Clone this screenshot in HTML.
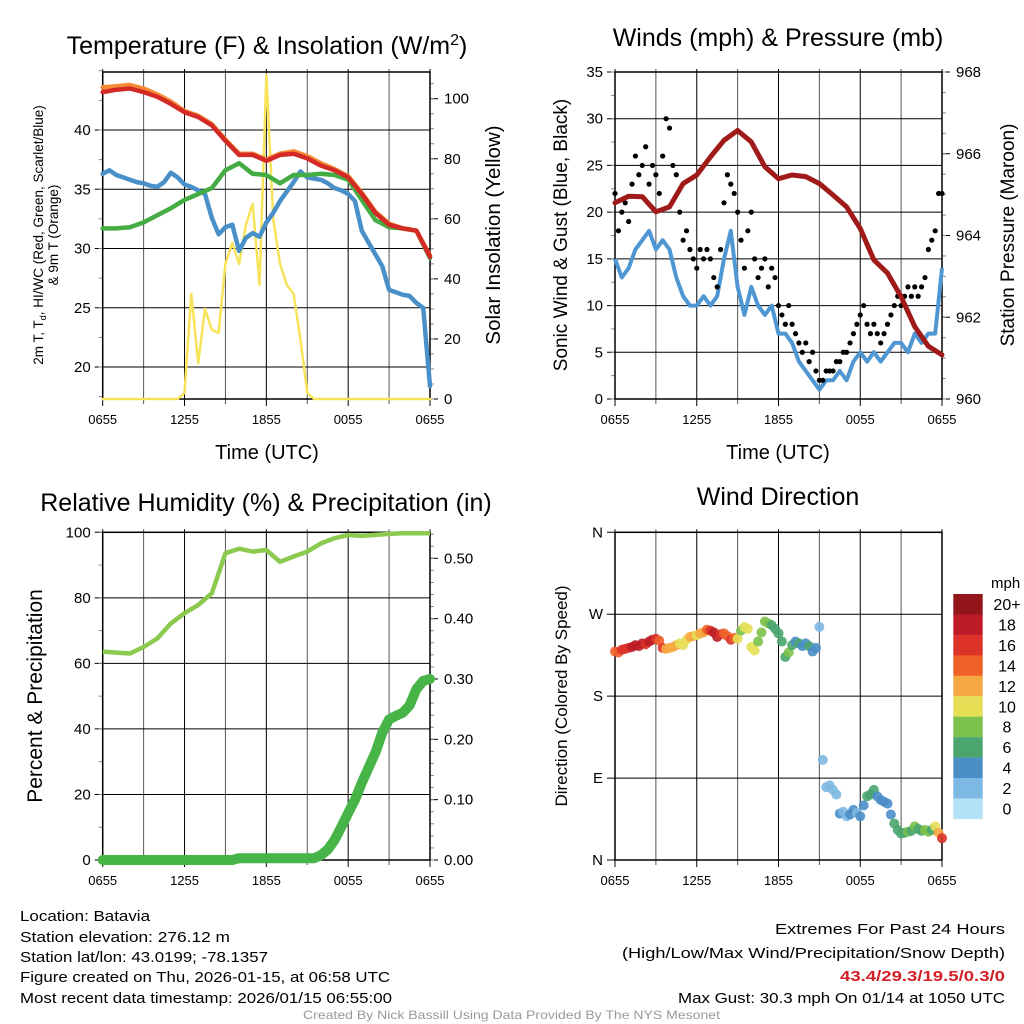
<!DOCTYPE html>
<html><head><meta charset="utf-8"><style>
html,body{margin:0;padding:0;background:#fff;}
svg{display:block;font-family:"Liberation Sans",sans-serif;}
</style></head><body>
<svg id="fig" width="1024" height="1024" viewBox="0 0 1024 1024">
<g id="g1"></g>
<g id="g2"></g>
<g id="g3"></g>
<g id="g4"></g>
<g font-size="15" fill="#000">
<text x="20" y="921" textLength="130" lengthAdjust="spacingAndGlyphs">Location: Batavia</text>
<text x="20" y="942" textLength="210" lengthAdjust="spacingAndGlyphs">Station elevation: 276.12 m</text>
<text x="20" y="962" textLength="248" lengthAdjust="spacingAndGlyphs">Station lat/lon: 43.0199; -78.1357</text>
<text x="20" y="982" textLength="370" lengthAdjust="spacingAndGlyphs">Figure created on Thu, 2026-01-15, at 06:58 UTC</text>
<text x="20" y="1003" textLength="372" lengthAdjust="spacingAndGlyphs">Most recent data timestamp: 2026/01/15 06:55:00</text>
<text x="775" y="934" textLength="230" lengthAdjust="spacingAndGlyphs">Extremes For Past 24 Hours</text>
<text x="622" y="958" textLength="383" lengthAdjust="spacingAndGlyphs">(High/Low/Max Wind/Precipitation/Snow Depth)</text>
<text x="840" y="981" textLength="165" lengthAdjust="spacingAndGlyphs" fill="#d42027" font-weight="bold">43.4/29.3/19.5/0.3/0</text>
<text x="678" y="1003" textLength="327" lengthAdjust="spacingAndGlyphs">Max Gust: 30.3 mph On 01/14 at 1050 UTC</text>
<text x="303" y="1019" font-size="12" fill="#999" textLength="417" lengthAdjust="spacingAndGlyphs">Created By Nick Bassill Using Data Provided By The NYS Mesonet</text>
</g>
</svg>
<script>
// ---- data (hours since 0655 UTC) ----
const timeTickLabels = ["0655","1255","1855","0055","0655"];
const tempHourly = [43.2,43.4,43.5,43.2,42.8,42.2,41.5,41.1,40.4,39.1,37.9,37.9,37.4,37.9,38.0,37.6,37.0,36.6,36.0,34.6,33.0,32.0,31.7,31.5,29.3];
const temp9mHourly = [43.6,43.7,43.8,43.5,43.0,42.4,41.6,41.2,40.5,39.2,38.0,38.0,37.5,38.0,38.2,37.8,37.2,36.7,36.1,34.7,33.1,32.1,31.7,31.5,29.4];
const dewHourly = [31.7,31.7,31.8,32.2,32.8,33.4,34.1,34.6,35.1,36.6,37.2,36.3,36.2,35.5,36.2,36.2,36.3,36.2,35.8,34.1,32.4,31.8,31.7,31.5,29.2];
const windChillHalf = [36.3,36.6,36.2,36.0,35.8,35.6,35.5,35.3,35.2,35.6,36.4,36.0,35.4,35.2,34.9,34.6,32.6,31.2,31.8,32.0,29.8,30.9,31.3,31.0,32.2,33.0,34.0,34.8,35.6,36.5,36.0,35.9,35.8,35.5,35.1,34.9,34.6,34.0,31.5,30.5,29.5,28.5,26.5,26.3,26.1,26.0,25.4,25.0,18.4];
const insolationHalf = [0,0,0,0,0,0,0,0,0,0,0,0,2,35,12,30,23,22,45,52,45,58,65,38,108,60,45,38,35,20,2,0,0,0,0,0,0,0,0,0,0,0,0,0,0,0,0,0,0];
const windHalf = [15,13,14,16,17,18,16,17,16,13,11,10,10,11,10,11,15,18,12,9,12,10,9,10,7,7,6,4,3,2,1,2,2,3,2,4,5,4,5,4,5,6,6,5,7,6,7,7,14];
const gustQuarter = [22,18,20,21,19,23,26,24,25,27,23,25,24,22,26,30,29,25,24,20,17,18,16,15,14,16,15,16,15,13,12,16,21,24,23,22,20,17,14,18,20,15,13,14,15,12,14,13,10,9,8,10,8,7,6,5,6,4,5,3,2,2,3,3,3,4,4,5,5,6,7,8,9,10,8,7,8,7,6,7,8,9,10,11,10,11,12,11,12,11,12,13,16,17,18,22,22];
const pressureHourly = [964.8,964.96,964.95,964.58,964.7,965.27,965.48,965.92,966.33,966.57,966.29,965.68,965.39,965.48,965.44,965.27,964.99,964.7,964.17,963.4,963.08,962.5,961.77,961.29,961.08];
const rhHourly = [63.6,63.3,63.0,65.0,67.6,72.2,75.3,77.8,81.4,93.6,95.0,94.1,94.6,91.0,92.6,94.1,96.6,98.2,99.2,98.9,99.2,99.5,99.7,99.7,99.7];
const precipHalf = [0,0,0,0,0,0,0,0,0,0,0,0,0,0,0,0,0,0,0,0,0.003,0.003,0.003,0.003,0.003,0.003,0.003,0.003,0.003,0.003,0.003,0.003,0.008,0.017,0.033,0.055,0.078,0.1,0.128,0.153,0.178,0.211,0.233,0.239,0.244,0.256,0.283,0.297,0.30];
const dirQuarter = [229,228,231,232,233,234,236,235,238,237,240,242,243,241,233,232,233,234,236,238,236,242,245,246,247,249,250,253,252,250,245,248,249,246,242,244,243,252,256,254,234,230,240,250,262,260,258,254,249,240,223,228,236,240,238,235,238,235,229,233,256,110,80,82,77,72,51,53,48,50,55,52,48,60,70,72,77,70,66,64,62,50,40,33,29,30,31,32,37,34,32,33,31,33,37,30,24];
const dirSpeedQuarter = [14,14,15,16,16,17,17,18,17,16,18,18,16,13,15,12,12,11,12,10,9,10,12,11,10,12,11,13,15,18,17,16,14,13,15,14,9,8,10,9,10,9,8,8,8,7,6,6,6,5,5,7,6,4,5,4,4,5,4,3,2,1,2,2,2,2,3,2,2,3,3,2,3,4,5,6,5,4,4,4,4,4,5,5,6,6,7,6,7,6,6,7,7,6,10,12,15];
const speedBinLabels = ["20+","18","16","14","12","10","8","6","4","2","0"];
const speedBinColors = ["#b3e1f6","#7db9e3","#4a8ec6","#4aa56f","#7cc14b","#e6df56","#f6a843","#ee6129","#dc3228","#bd1c26","#921519"];

const NS="http://www.w3.org/2000/svg";
function el(parent,tag,attrs,txt){const e=document.createElementNS(NS,tag);for(const k in attrs)e.setAttribute(k,attrs[k]);if(txt!==undefined)e.textContent=txt;parent.appendChild(e);return e;}
function scale(d0,d1,r0,r1){return v=>r0+(v-d0)*(r1-r0)/(d1-d0);}
function pathFrom(vals,step,xs,ys){return vals.map((v,i)=>(i?"L":"M")+xs(i*step).toFixed(1)+","+ys(v).toFixed(1)).join("");}

function frame(g,L,R,T,B,xs,yTicks,ys,yTickFmt,yMinor,rTicks,rs,rFmt,rMinor,grid){
  for(let h=0;h<=24;h+=3){const ln=el(g,"line",{x1:xs(h),x2:xs(h),y1:T-3,y2:B+(h%6==0?7:5),stroke:h%6==0?"#000":"#555","stroke-width":1});
    
    }
  (grid||yTicks).forEach(v=>{const ln=el(g,"line",{x1:L-8,x2:R,y1:ys(v),y2:ys(v),stroke:"#000","stroke-width":1});
    
    });
  yTicks.forEach(v=>{const t=el(g,"text",{x:L-12,y:ys(v)+5,"font-size":15,"text-anchor":"end"},yTickFmt(v));
    
    });
  (yMinor||[]).forEach(v=>el(g,"line",{x1:L-4,x2:L,y1:ys(v),y2:ys(v),stroke:"#888"}));
  if(rTicks){rTicks.forEach(v=>{el(g,"line",{x1:R,x2:R+8,y1:rs(v),y2:rs(v),stroke:"#000"});
      const t=el(g,"text",{x:R+14,y:rs(v)+5,"font-size":15},rFmt(v));
      
      });
    (rMinor||[]).forEach(v=>el(g,"line",{x1:R,x2:R+4,y1:rs(v),y2:rs(v),stroke:"#888"}));}
  timeTickLabels.forEach((s,i)=>{const t=el(g,"text",{x:xs(i*6),y:B+25,"font-size":13,"text-anchor":"middle"},s);
    
    });
  el(g,"rect",{x:L,y:T,width:R-L,height:B-T,fill:"none",stroke:"#000","stroke-width":1.5});
}
function range(a,b,s){const r=[];for(let v=a;v<=b+1e-9;v+=s)r.push(+v.toFixed(4));return r;}

// ---- Panel 1 ----
(function(){
 const g=document.getElementById("g1");const L=102.7,R=430,T=72,B=399;
 const xs=scale(0,24,L,R), ys=scale(20,40,367,130), rs=scale(0,100,399,98.7);
 frame(g,L,R,T,B,xs,[20,25,30,35,40],ys,v=>v,range(17.5,45,2.5),[0,20,40,60,80,100],rs,v=>v,range(0,105,5));
 const mk=(vals,step,s,col,w,name)=>{const p=el(g,"path",{d:pathFrom(vals,step,xs,s),fill:"none",stroke:col,"stroke-width":w,"stroke-linejoin":"round","stroke-linecap":"round"});
   
   };
 mk(insolationHalf,0.5,rs,"#f7e35a",2.5,"insolation-line");
 mk(windChillHalf,0.5,ys,"#4a90c8",4.5,"wind-chill-line");
 mk(dewHourly,1,ys,"#43ad43",4.5,"dewpoint-line");
 mk(temp9mHourly,1,ys,"#f58b35",4.5,"temp-9m-line");
 mk(tempHourly,1,ys,"#d42a26",4.5,"temp-2m-line");
 let t=el(g,"text",{x:267,y:54,"font-size":25,"text-anchor":"middle"});
 
 
 t.innerHTML='Temperature (F) &amp; Insolation (W/m<tspan dy="-9" font-size="16">2</tspan><tspan dy="9">)</tspan>';
 t=el(g,"text",{x:267,y:459,"font-size":20,"text-anchor":"middle"},"Time (UTC)");
 
 
 t=el(g,"text",{transform:"translate(43,235) rotate(-90)","font-size":13.5,"text-anchor":"middle"});
 
 
 t.innerHTML='2m T, T<tspan dy="3" font-size="9">d</tspan><tspan dy="-3">, HI/WC (Red, Green, Scarlet/Blue)</tspan>';
 t=el(g,"text",{transform:"translate(58,235) rotate(-90)","font-size":13.5,"text-anchor":"middle"},"& 9m T (Orange)");
 
 
 t=el(g,"text",{transform:"translate(500,235) rotate(-90)","font-size":20.5,"text-anchor":"middle"},"Solar Insolation (Yellow)");
 
 
})();

// ---- Panel 2 ----
(function(){
 const g=document.getElementById("g2");const L=615,R=942,T=72,B=399;
 const xs=scale(0,24,L,R), ys=scale(0,35,399,72), rs=scale(960,968,399,72);
 frame(g,L,R,T,B,xs,[0,5,10,15,20,25,30,35],ys,v=>v,range(0,35,2.5),[960,962,964,966,968],rs,v=>v,range(960,968,0.5));
 let p=el(g,"path",{d:pathFrom(windHalf,0.5,xs,ys),fill:"none",stroke:"#4f97d3","stroke-width":4,"stroke-linejoin":"round"});
 
 
 gustQuarter.forEach((v,i)=>{const c=el(g,"circle",{cx:xs(i*0.25),cy:ys(v),r:2.6,fill:"#000"});
   
   });
 p=el(g,"path",{d:pathFrom(pressureHourly,1,xs,rs),fill:"none",stroke:"#a01a1a","stroke-width":5,"stroke-linejoin":"round","stroke-linecap":"round"});
 
 
 let t=el(g,"text",{x:778,y:46,"font-size":25,"text-anchor":"middle"},"Winds (mph) & Pressure (mb)");
 
 
 t=el(g,"text",{x:778,y:459,"font-size":20,"text-anchor":"middle"},"Time (UTC)");
 
 
 t=el(g,"text",{transform:"translate(567,235) rotate(-90)","font-size":19,"text-anchor":"middle"},"Sonic Wind & Gust (Blue, Black)");
 
 
 t=el(g,"text",{transform:"translate(1014,235) rotate(-90)","font-size":19,"text-anchor":"middle"},"Station Pressure (Maroon)");
 
 
})();

// ---- Panel 3 ----
(function(){
 const g=document.getElementById("g3");const L=102.7,R=430,T=532.3,B=860;
 const xs=scale(0,24,L,R), ys=scale(0,100,860,532.3), rs=scale(0,0.5,860,558.3);
 frame(g,L,R,T,B,xs,[0,20,40,60,80,100],ys,v=>v,range(0,100,10),[0,0.1,0.2,0.3,0.4,0.5],rs,v=>v.toFixed(2),range(0,0.54,0.02));
 let p=el(g,"path",{d:pathFrom(rhHourly,1,xs,ys),fill:"none",stroke:"#8bc94f","stroke-width":4.5,"stroke-linejoin":"round"});
 
 
 p=el(g,"path",{d:pathFrom(precipHalf,0.5,xs,rs),fill:"none",stroke:"#46b446","stroke-width":10,"stroke-linejoin":"round","stroke-linecap":"round"});
 
 
 let t=el(g,"text",{x:266,y:511,"font-size":25,"text-anchor":"middle"},"Relative Humidity (%) & Precipitation (in)");
 
 
 t=el(g,"text",{transform:"translate(42,696) rotate(-90)","font-size":21,"text-anchor":"middle"},"Percent & Precipitation");
 
 
})();

// ---- Panel 4 ----
(function(){
 const g=document.getElementById("g4");const L=615,R=942,T=532.3,B=860;
 const xs=scale(0,24,L,R), ys=scale(0,360,860,532.3);
 const dirLab={0:"N",90:"E",180:"S",270:"W",360:"N"};
 frame(g,L,R,T,B,xs,[0,90,180,270,360],ys,v=>dirLab[v],null,null,null,null,null);
 dirQuarter.forEach((v,i)=>{const s=dirSpeedQuarter[i];const bin=Math.min(10,Math.round(s/2));
   const c=el(g,"circle",{cx:xs(i*0.25),cy:ys(v),r:5,fill:speedBinColors[bin],"fill-opacity":0.9});
   
   });
 const cb=el(g,"g",{});
 
 
 speedBinLabels.forEach((lab,i)=>{const y=594+i*20.45;
   const r=el(cb,"rect",{x:953.3,y:y,width:29.4,height:20.6,fill:speedBinColors[10-i]});
   
   
   const t=el(cb,"text",{x:1007,y:y+16,"font-size":16,"text-anchor":"middle"},lab);
   
   });
 let t=el(g,"text",{x:991,y:588,"font-size":15},"mph");
 
 
 t=el(g,"text",{x:778,y:505,"font-size":25,"text-anchor":"middle"},"Wind Direction");
 
 
 t=el(g,"text",{transform:"translate(567,696) rotate(-90)","font-size":17,"text-anchor":"middle"},"Direction (Colored By Speed)");
 
 
})();
</script>
</body></html>
